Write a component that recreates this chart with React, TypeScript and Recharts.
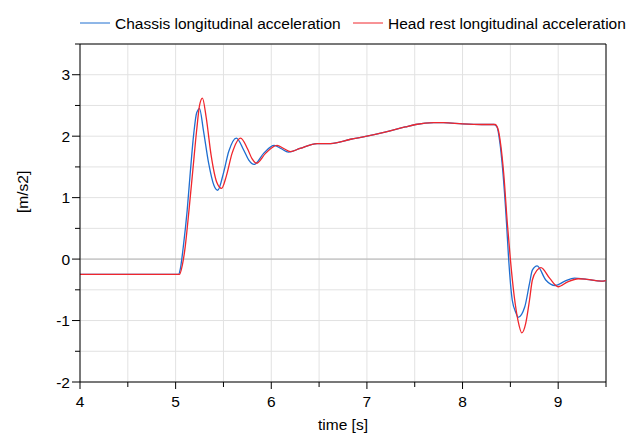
import { LineChart, Line, XAxis, YAxis, CartesianGrid, ReferenceLine, Label } from "recharts"

// time [s] and acceleration [m/s2] samples for both measurement points
const chassisTime = [
  4, 5.03, 5.05, 5.08, 5.12, 5.15, 5.19, 5.22, 5.25, 5.29, 5.345, 5.4, 5.44, 5.5, 5.555, 5.635, 5.71, 5.765,
  5.82, 5.92, 6.03, 6.1, 6.18, 6.3, 6.48, 6.62, 6.83, 7.0, 7.2, 7.4, 7.51, 7.7, 7.8, 8.0, 8.2, 8.33, 8.36,
  8.39, 8.42, 8.46, 8.48, 8.52, 8.56, 8.58, 8.65, 8.7, 8.73, 8.78, 8.87, 8.97, 9.07, 9.17, 9.3, 9.45, 9.5,
]
const chassisAccel = [
  -0.25, -0.25, -0.15, 0.2, 0.78, 1.35, 2.05, 2.38, 2.45, 2.1, 1.56, 1.2, 1.12, 1.4, 1.75, 1.97, 1.78, 1.61,
  1.54, 1.72, 1.85, 1.8, 1.74, 1.8, 1.88, 1.88, 1.95, 2.0, 2.07, 2.15, 2.19, 2.22, 2.22, 2.2, 2.19, 2.19, 2.15,
  1.9, 1.45, 0.58, 0.05, -0.67, -0.88, -0.95, -0.78, -0.4, -0.18, -0.11, -0.34, -0.43, -0.36, -0.31, -0.33,
  -0.36, -0.35,
]

const headRestTime = [
  4, 5.04, 5.07, 5.1, 5.14, 5.18, 5.22, 5.25, 5.28, 5.32, 5.37, 5.43, 5.48, 5.53, 5.59, 5.68, 5.75, 5.8,
  5.845, 5.94, 6.06, 6.13, 6.2, 6.3, 6.48, 6.62, 6.83, 7.0, 7.2, 7.4, 7.51, 7.7, 7.8, 8.0, 8.2, 8.34, 8.37,
  8.4, 8.43, 8.47, 8.5, 8.54, 8.58, 8.62, 8.66, 8.7, 8.73, 8.78, 8.82, 8.91, 9.0, 9.1, 9.21, 9.3, 9.45, 9.5,
]
const headRestAccel = [
  -0.25, -0.25, -0.1, 0.2, 0.8, 1.45, 2.1, 2.5, 2.62, 2.3, 1.7, 1.25, 1.15, 1.35, 1.72, 1.97, 1.8, 1.63,
  1.56, 1.72, 1.85, 1.8, 1.75, 1.8, 1.88, 1.88, 1.95, 2.0, 2.07, 2.15, 2.19, 2.22, 2.22, 2.2, 2.19, 2.19, 2.12,
  1.85, 1.4, 0.55, 0.0, -0.6, -1.0, -1.2, -1.05, -0.67, -0.34, -0.18, -0.14, -0.31, -0.45, -0.37, -0.32, -0.33,
  -0.36, -0.35,
]

const timeTicks = [4, 4.5, 5, 5.5, 6, 6.5, 7, 7.5, 8, 8.5, 9, 9.5]
const accelTicks = [-2, -1.5, -1, -0.5, 0, 0.5, 1, 1.5, 2, 2.5, 3, 3.5]

const BLUE = "#1f6ed0"
const RED = "#f0262c"
const FONT = "'Liberation Sans', Arial, sans-serif"

const chassisData = chassisTime.map((t, i) => ({ t, a: chassisAccel[i] }))
const headRestData = headRestTime.map((t, i) => ({ t, a: headRestAccel[i] }))

const isMajor = (v: number) => Number.isInteger(v)

function TimeTick({ x, y, payload }: any) {
  const major = isMajor(payload.value)
  return (
    <g>
      <line x1={x} x2={x} y1={y} y2={y + (major ? 7 : 5)} stroke="#000" />
      {major && (
        <text x={x} y={y + 25} textAnchor="middle" fontSize={15.5} fontFamily={FONT} fill="#000">
          {payload.value}
        </text>
      )}
    </g>
  )
}

function AccelTick({ x, y, payload }: any) {
  const major = isMajor(payload.value)
  return (
    <g>
      <line x1={x} x2={x - (major ? 8 : 5)} y1={y} y2={y} stroke="#000" />
      {major && (
        <text x={x - 10} y={y + 5.5} textAnchor="end" fontSize={15.5} fontFamily={FONT} fill="#000">
          {payload.value}
        </text>
      )}
    </g>
  )
}

function LegendBar() {
  return (
    <svg width={637} height={40} style={{ position: "absolute", left: 0, top: 0 }}>
      <line x1={80} x2={110} y1={23} y2={23} stroke={BLUE} />
      <text x={115} y={28.5} fontSize={15.5} fontFamily={FONT} fill="#000">
        Chassis longitudinal acceleration
      </text>
      <line x1={353} x2={383} y1={23} y2={23} stroke={RED} />
      <text x={388} y={28.5} fontSize={15.5} fontFamily={FONT} fill="#000">
        Head rest longitudinal acceleration
      </text>
    </svg>
  )
}

export default function App() {
  return (
    <div style={{ position: "absolute", left: 0, top: 0, width: 637, height: 444, background: "#fff" }}>
      <LineChart width={637} height={444} margin={{ top: 44, right: 31, bottom: 0, left: 0 }}>
        <CartesianGrid stroke="#e2e2e2" />
        <XAxis
          dataKey="t"
          type="number"
          domain={[4, 9.5]}
          ticks={timeTicks}
          interval={0}
          height={62}
          tickSize={0}
          tickMargin={0}
          tickLine={false}
          tick={<TimeTick />}
          stroke="#000"
          allowDataOverflow
        >
          <Label value="time [s]" position="insideBottom" offset={14} fontSize={15.5} fontFamily={FONT} fill="#000" />
        </XAxis>
        <YAxis
          type="number"
          domain={[-2, 3.5]}
          ticks={accelTicks}
          interval={0}
          width={80}
          tickSize={0}
          tickMargin={0}
          tickLine={false}
          tick={<AccelTick />}
          stroke="#000"
          allowDataOverflow
        >
          <Label value="[m/s2]" angle={-90} position="insideLeft" offset={22} fontSize={15.5} fontFamily={FONT} fill="#000" />
        </YAxis>
        <ReferenceLine y={0} stroke="#b4b4b4" />
        <ReferenceLine y={3.5} stroke="#000" />
        <ReferenceLine x={9.5} stroke="#000" />
        <Line
          data={chassisData}
          dataKey="a"
          name="Chassis longitudinal acceleration"
          type="monotone"
          stroke={BLUE}
          strokeWidth={1.3}
          dot={false}
          isAnimationActive={false}
        />
        <Line
          data={headRestData}
          dataKey="a"
          name="Head rest longitudinal acceleration"
          type="monotone"
          stroke={RED}
          strokeWidth={1.3}
          dot={false}
          isAnimationActive={false}
        />
      </LineChart>
      <LegendBar />
    </div>
  )
}
